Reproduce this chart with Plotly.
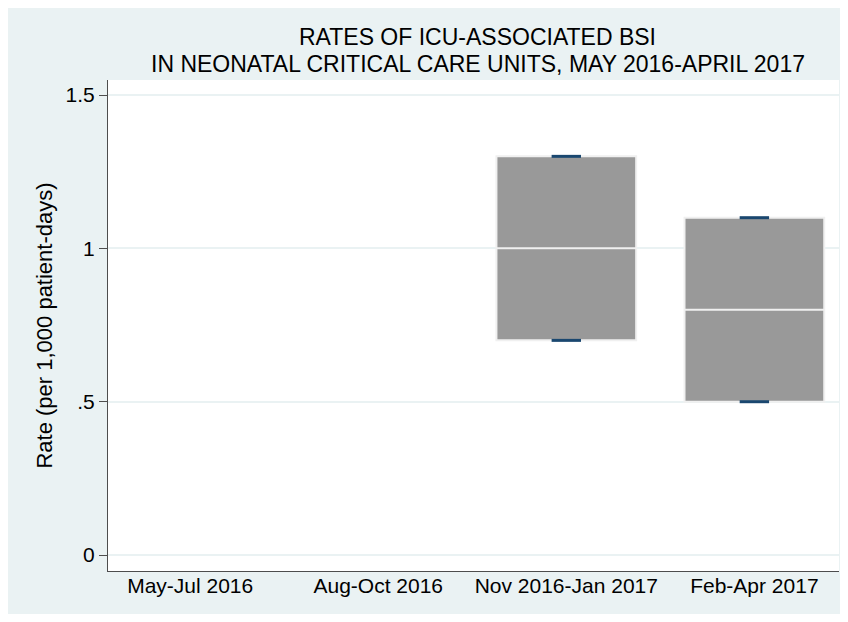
import plotly.graph_objects as go

# ── data ──────────────────────────────────────
CATEGORIES = ["May-Jul 2016", "Aug-Oct 2016", "Nov 2016-Jan 2017", "Feb-Apr 2017"]
BOX_X      = ["Nov 2016-Jan 2017", "Feb-Apr 2017"]
Q1         = [0.7, 0.5]
MEDIAN     = [1.0, 0.8]
Q3         = [1.3, 1.1]
LOW        = [0.7, 0.5]
HIGH       = [1.3, 1.1]
Y_TICKS    = [0, 0.5, 1, 1.5]
Y_TICKTEXT = ["0", ".5", "1", "1.5"]

TITLE_1 = "RATES OF ICU-ASSOCIATED BSI"
TITLE_2 = "IN NEONATAL CRITICAL CARE UNITS, MAY 2016-APRIL 2017"

# ── style ─────────────────────────────────────
FONT    = "Liberation Sans, Arial, sans-serif"
BG      = "#EAF2F3"
BOX_CLR = "#999999"
NAVY    = "#1A476F"
AXIS    = "#4D4D4D"

# page body has an 8px margin, so the figure is sized to fit inside it
W, H = 832, 606
M = dict(l=100, r=1, t=72, b=43)
ph = H - M["t"] - M["b"]

fig = go.Figure()

# keep all four categories on the axis
fig.add_trace(go.Scatter(x=CATEGORIES, y=[None] * len(CATEGORIES),
                         mode="markers", showlegend=False, hoverinfo="skip"))

fig.add_trace(go.Box(
    x=BOX_X, q1=Q1, median=MEDIAN, q3=Q3,
    lowerfence=LOW, upperfence=HIGH,
    width=0.743, whiskerwidth=0,
    fillcolor=BOX_CLR,
    line=dict(color="#F0F0F0", width=2),
    boxpoints=False, showlegend=False,
))

# whisker caps
cap_x = [c for c in BOX_X for _ in range(2)]
cap_y = [v for pair in zip(LOW, HIGH) for v in pair]
fig.add_trace(go.Scatter(
    x=cap_x, y=cap_y, mode="markers", showlegend=False,
    marker=dict(symbol="line-ew", size=21, color=NAVY,
                line=dict(color=NAVY, width=3)),
))

# two tight title lines
for txt, ypx in [(TITLE_1, 29), (TITLE_2, 56)]:
    fig.add_annotation(
        text=txt, xref="paper", yref="paper",
        x=0.5055, y=(H - M["b"] - ypx) / ph,
        xanchor="center", yanchor="middle", showarrow=False,
        font=dict(family=FONT, size=23, color="#000000"),
    )

fig.update_layout(
    width=W, height=H,
    margin=M,
    paper_bgcolor=BG,
    plot_bgcolor="#FFFFFF",
    font=dict(family=FONT, size=21, color="#000000"),
    boxmode="overlay",
    xaxis=dict(
        type="category", categoryorder="array", categoryarray=CATEGORIES,
        range=[-0.437, 3.45],
        showline=True, linecolor=AXIS, linewidth=1,
        showgrid=False, ticks="", zeroline=False,
        tickfont=dict(size=21), ticklabelstandoff=-4,
    ),
    yaxis=dict(
        range=[-0.052, 1.549],
        tickvals=Y_TICKS, ticktext=Y_TICKTEXT,
        showline=True, linecolor=AXIS, linewidth=1,
        ticks="outside", ticklen=8, tickcolor=AXIS,
        showgrid=True, gridcolor=BG, gridwidth=2,
        zeroline=False,
        tickfont=dict(size=21),
        title=dict(text="Rate (per 1,000 patient-days)",
                   font=dict(size=22), standoff=6),
    ),
)

fig.write_html("out.html")
